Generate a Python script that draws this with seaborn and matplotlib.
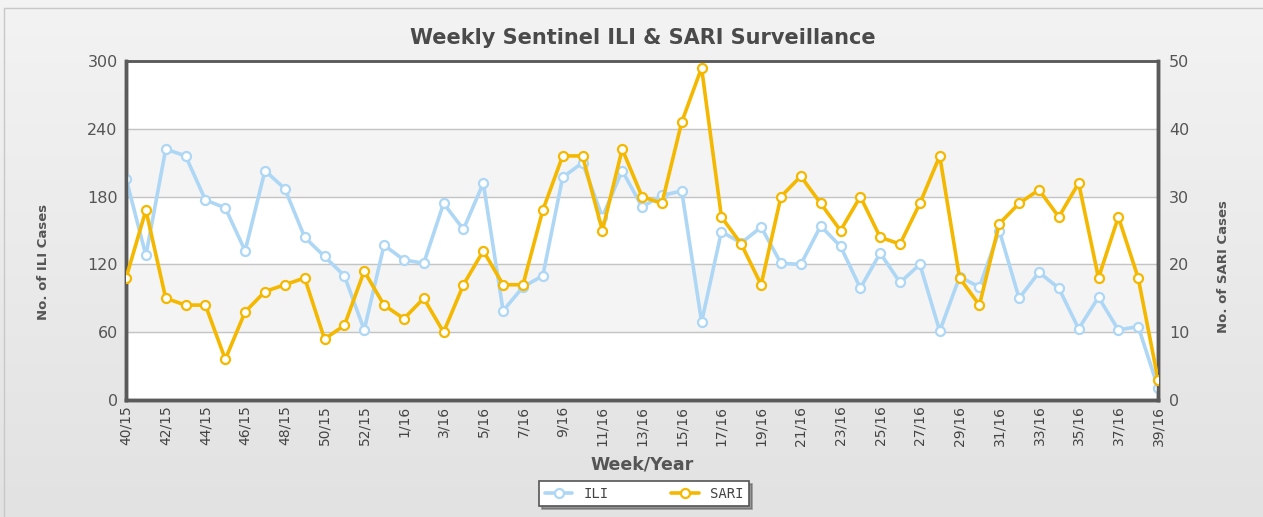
# Weekly sentinel ILI & SARI surveillance chart, recreated with seaborn
import numpy as np
import pandas as pd
import matplotlib.pyplot as plt
import seaborn as sns

# data, weeks 40/15 .. 39/16 (2015 has week 53)
weeks = [f"{w}/15" for w in range(40, 54)] + [f"{w}/16" for w in range(1, 40)]
ili = [196, 128, 222, 216, 177, 170, 132, 203, 187, 144, 127, 110, 62,
       137, 124, 121, 174, 151, 192, 79, 100, 110, 197, 210, 162, 203, 171,
       181, 185, 69, 149, 139, 153, 121, 120, 154, 136, 99, 130, 104, 120, 61,
       109, 100, 150, 90, 113, 99, 63, 91, 62, 65, 11]
sari = [18, 28, 15, 14, 14, 6, 13, 16, 17, 18, 9, 11, 19,
        14, 12, 15, 10, 17, 22, 17, 17, 28, 36, 36, 25, 37, 30,
        29, 41, 49, 27, 23, 17, 30, 33, 29, 25, 30, 24, 23, 29, 36,
        18, 14, 26, 29, 31, 27, 32, 18, 27, 18, 3]

df = pd.DataFrame({"idx": np.arange(len(weeks)), "week": weeks, "ILI": ili, "SARI": sari})

ili_col = "#aed7f5"
sari_col = "#f5b800"
txt_col = "#555555"

sns.set_style("white")
plt.rcParams["font.family"] = ["DejaVu Sans"]

fig = plt.figure(figsize=(12.63, 5.17), dpi=100)

# light grey gradient background
bg = fig.add_axes([0, 0, 1, 1], zorder=-10)
bg.imshow(np.linspace(0, 1, 100).reshape(-1, 1), cmap=plt.matplotlib.colors.LinearSegmentedColormap.from_list("g", ["#f3f3f3", "#e2e2e2"]),
          aspect="auto", extent=[0, 1, 0, 1])
bg.plot([0.003, 0.003, 1], [0, 0.985, 0.985], color="#c8c8c8", lw=1)
bg.set_xlim(0, 1)
bg.set_ylim(0, 1)
bg.axis("off")

ax = fig.add_axes([0.0998, 0.2263, 0.8171, 0.6557])
ax.set_facecolor("white")
for lo, hi in [(60, 120), (180, 240)]:
    ax.axhspan(lo, hi, color="#f4f4f4", zorder=0)
for y in [60, 120, 180, 240]:
    ax.axhline(y, color="#c4c4c4", lw=1, zorder=0.5)

sns.lineplot(data=df, x="idx", y="ILI", ax=ax, color=ili_col, lw=2.6, marker="o",
             markersize=6.5, markerfacecolor="white", markeredgecolor=ili_col,
             markeredgewidth=1.6, label="ILI", legend=False, zorder=3)

ax2 = ax.twinx()
sns.lineplot(data=df, x="idx", y="SARI", ax=ax2, color=sari_col, lw=2.6, marker="o",
             markersize=6.5, markerfacecolor="white", markeredgecolor=sari_col,
             markeredgewidth=1.6, label="SARI", legend=False, zorder=3)

ax.set_xlim(0, len(weeks) - 1)
ax.set_ylim(0, 300)
ax2.set_ylim(0, 50)
ax.set_yticks(range(0, 301, 60))
ax2.set_yticks(range(0, 51, 10))
ax.set_xticks(df["idx"][::2])
ax.set_xticklabels(df["week"][::2], rotation=90, fontsize=10, color="#444444")
ax.tick_params(axis="y", length=0, labelsize=11.5, labelcolor=txt_col, pad=6)
ax2.tick_params(axis="y", length=0, labelsize=11.5, labelcolor=txt_col, pad=8)
ax.tick_params(axis="x", length=0, pad=4)

for a in (ax, ax2):
    for side in ["left", "right", "bottom"]:
        a.spines[side].set_color("#5a5a5a")
        a.spines[side].set_linewidth(2.5)
    a.spines["top"].set_color("#5a5a5a")
    a.spines["top"].set_linewidth(1.8)

ax.set_ylabel("No. of ILI Cases", fontsize=9.5, fontweight="bold", color=txt_col)
ax.yaxis.set_label_coords(-0.074, 0.407)
ax2.set_ylabel("No. of SARI Cases", fontsize=9.5, fontweight="bold", color=txt_col, rotation=90)
ax2.yaxis.set_label_coords(1.057, 0.395)
ax.set_xlabel("Week/Year", fontsize=12.5, fontweight="bold", color=txt_col, labelpad=7)

fig.text(0.509, 0.926, "Weekly Sentinel ILI & SARI Surveillance", ha="center", va="center",
         fontsize=15, fontweight="bold", color="#4a4a4a")

h1, l1 = ax.get_legend_handles_labels()
h2, l2 = ax2.get_legend_handles_labels()
leg = fig.legend(h1 + h2, l1 + l2, loc="center", bbox_to_anchor=(0.51, 0.045), ncol=2,
                 frameon=True, fancybox=False, shadow=True, columnspacing=4.5,
                 handlelength=2, prop={"family": "DejaVu Sans Mono", "size": 10})
leg.get_frame().set_edgecolor("#555555")
leg.get_frame().set_linewidth(1.2)
for t in leg.get_texts():
    t.set_color("#444444")

fig.savefig("out.png", dpi=100)
